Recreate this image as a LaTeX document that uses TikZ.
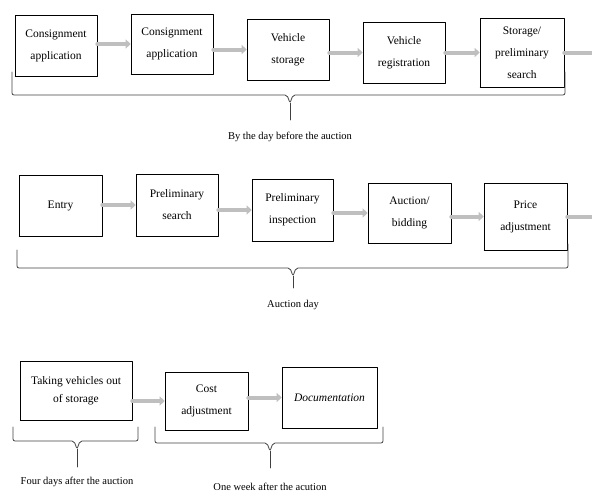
\documentclass[tikz,border=0pt]{standalone}
\usepackage{fontspec}
\setmainfont{Liberation Serif}
\usetikzlibrary{arrows.meta}

\begin{document}
\begin{tikzpicture}[x=1pt,y=-1pt,line cap=round,line join=round,
  stage/.style={draw,line width=0.6pt,minimum width=82pt,minimum height=61pt,inner sep=2pt,align=center,font=\fontsize{11.5}{22}\selectfont},
  flow/.style={-{Triangle[length=5pt,width=9pt]},line width=4pt,draw=gray!50},
  span/.style={line width=0.8pt,draw=black!75,rounded corners=2pt},
  note/.style={font=\fontsize{10.5}{12}\selectfont}]
\useasboundingbox (0,0) rectangle (592,493);
% first row
\node[stage] (cons1) at (56,45.5) {Consignment\\application};
\node[stage,minimum height=60pt] (cons2) at (172,44) {Consignment\\application};
\node[stage] (store) at (288,49.5) {Vehicle\\storage};
\node[stage] (regist) at (404,52.5) {Vehicle\\registration};
\node[stage,minimum width=84pt,minimum height=69pt] (search) at (522,52.5) {Storage/\\preliminary\\search};
\coordinate (out1) at (592,52.5);
% second row
\node[stage,minimum width=83pt] (entry) at (60.5,205.5) {Entry};
\node[stage,minimum height=62pt] (presearch) at (177,205) {Preliminary\\search};
\node[stage,minimum width=81pt,minimum height=62pt] (inspect) at (292.5,210) {Preliminary\\inspection};
\node[stage,minimum width=83pt,minimum height=60pt] (bid) at (409.5,213) {Auction/\\bidding};
\node[stage,minimum width=83pt,minimum height=67pt] (price) at (525.5,216.5) {Price\\adjustment};
\coordinate (out2) at (592,216.5);
% third row
\node[stage,minimum width=112pt,minimum height=59pt,font=\fontsize{11.5}{18}\selectfont] (takeout) at (76,390.5) {Taking vehicles out\\of storage};
\node[stage,minimum width=83pt,minimum height=58pt] (cost) at (206.5,401) {Cost\\adjustment};
\node[stage,minimum width=95pt] (docs) at (329.5,397.5) {\itshape Documentation};
\foreach \n in {cons1,cons2,store,regist,search,entry,presearch,inspect,bid,price,takeout,cost,docs}
  \draw[line width=1.6pt,line cap=butt] (\n.south west) -- (\n.south east);
% arrows
\draw[flow] (cons1.east |- cons2.west) -- (cons2.west);
\draw[flow] (cons2.east |- store.west) -- (store.west);
\draw[flow] (store.east |- regist.west) -- (regist.west);
\draw[flow] (regist.east |- search.west) -- (search.west);
\draw[flow,-] (search.east) -- (out1);
\draw[flow] (entry.east |- presearch.west) -- (presearch.west);
\draw[flow] (presearch.east |- inspect.west) -- (inspect.west);
\draw[flow] (inspect.east |- bid.west) -- (bid.west);
\draw[flow] (bid.east |- price.west) -- (price.west);
\draw[flow,-] (price.east) -- (out2);
\draw[flow] (takeout.east |- cost.west) -- (cost.west);
\draw[flow] (cost.east |- docs.west) -- (docs.west);
% braces and periods
\draw[span] (12,72) -- (12,95) -- (287,95) -- (290,103) -- (293,95) -- (565,95) -- (565,72);
\coordinate (tip1) at (290,103);
\node[note] (before) at (290,137) {By the day before the auction};
\draw[span] (tip1) -- ++(0,17);
\draw[span] (17,250) -- (17,268) -- (290,268) -- (293,276) -- (296,268) -- (568,268) -- (568,244);
\coordinate (tip2) at (293,276);
\node[note] (aucday) at (293,305) {Auction day};
\draw[span] (tip2) -- ++(0,12);
\draw[span] (13,427) -- (13,441) -- (74,441) -- (77,449) -- (80,441) -- (138,441) -- (138,427);
\coordinate (tip3) at (77,449);
\node[note] (fourdays) at (77,482) {Four days after the auction};
\draw[span] (tip3) -- ++(0,18);
\draw[span] (155,427) -- (155,443) -- (267,443) -- (270,451) -- (273,443) -- (383,443) -- (383,427);
\coordinate (tip4) at (270,451);
\node[note] (oneweek) at (270,487) {One week after the acution};
\draw[span] (tip4) -- ++(0,17);
\end{tikzpicture}
\end{document}
